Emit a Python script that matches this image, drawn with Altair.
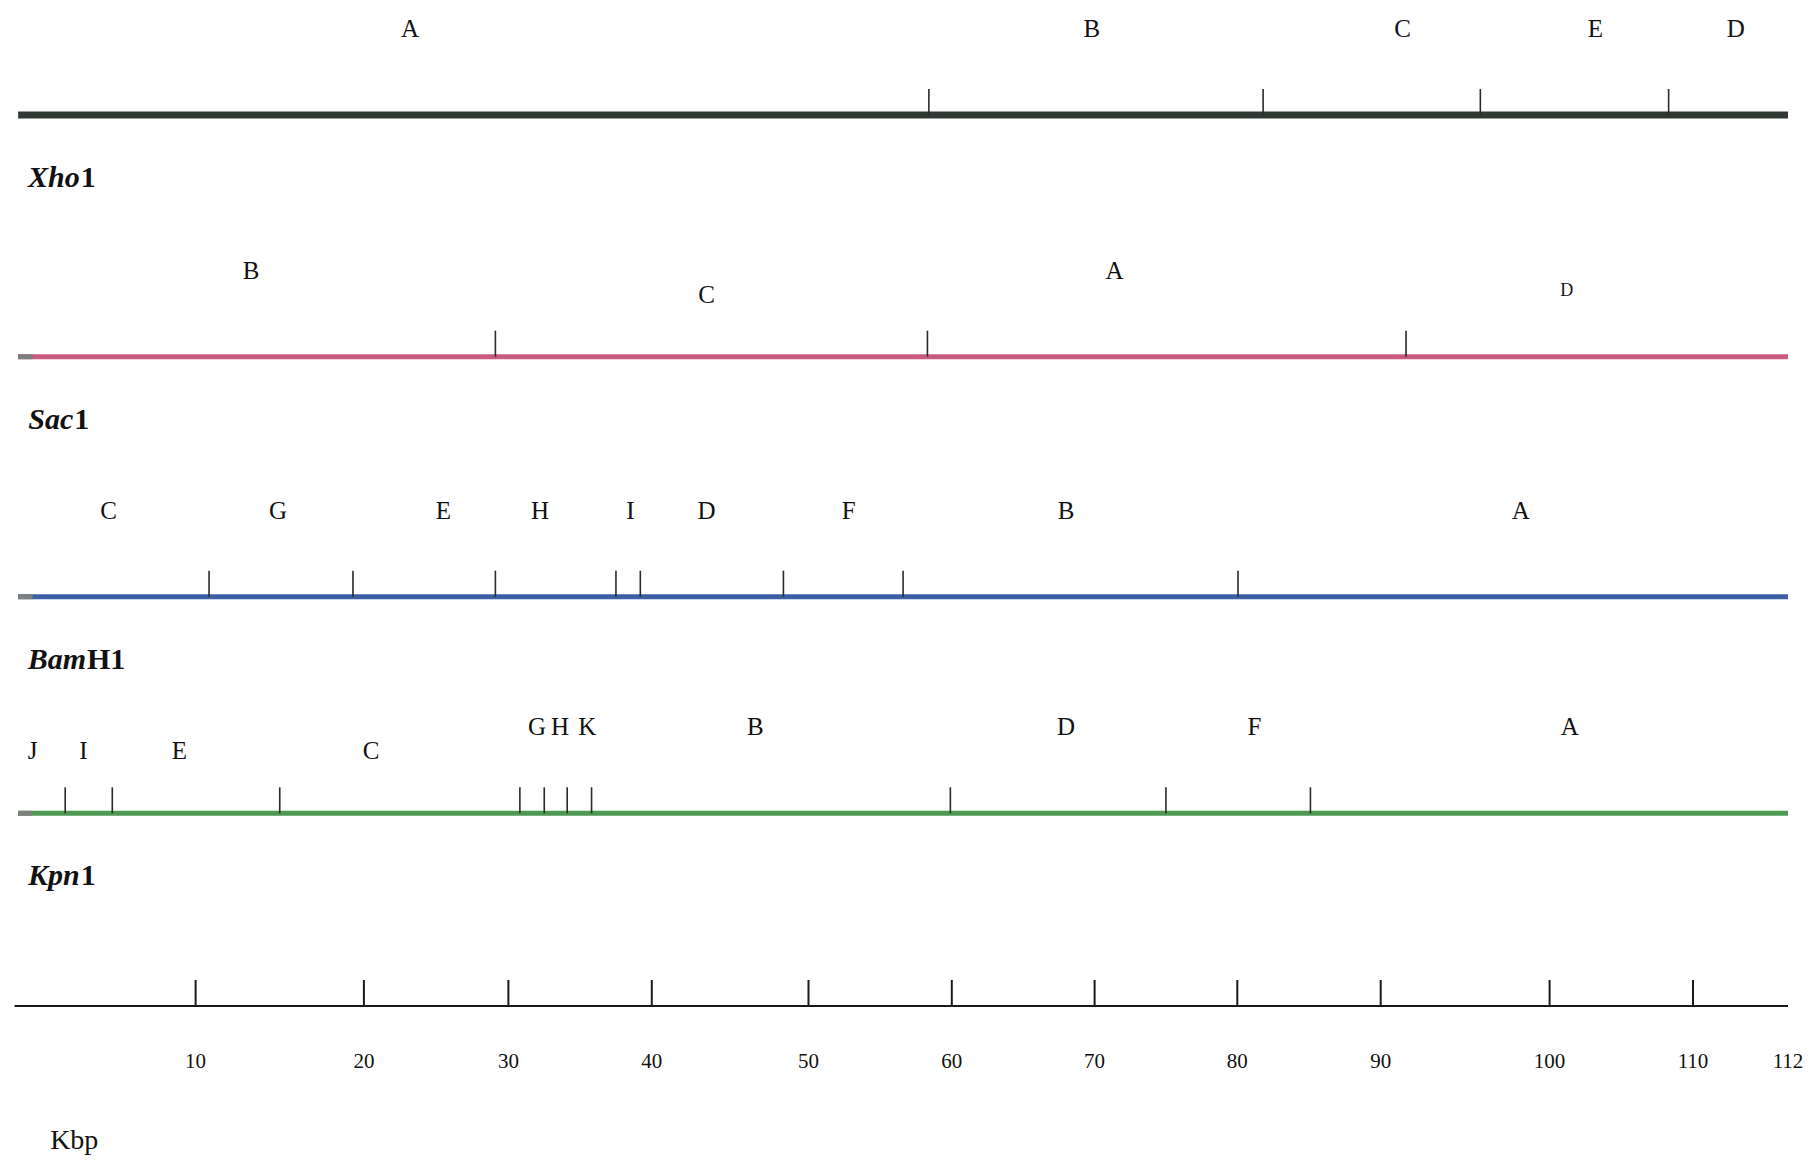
import altair as alt
import pandas as pd

# ---------------- data (kbp) ----------------
genome_end = 112
ruler_ticks = [10, 20, 30, 40, 50, 60, 70, 80, 90, 100, 110]
ruler_labels = [10, 20, 30, 40, 50, 60, 70, 80, 90, 100, 110, 112]

enzyme_italic = ["Xho", "Sac", "Bam", "Kpn"]
enzyme_roman = ["1", "1", "H1", "1"]
enzyme_split = [3.6, 3.25, 3.95, 3.6]
track_colors = ["#2f3833", "#c85a82", "#3a5fa6", "#4c9a50"]

xho_cuts = [58.4, 81.8, 95.9, 108.3]
sac_cuts = [29.1, 58.3, 91.5]
bam_cuts = [10.8, 19.35, 29.1, 37.5, 39.2, 48.4, 56.6, 80.05]
kpn_cuts = [2.8, 5.4, 15.0, 30.8, 32.5, 34.1, 35.8, 59.9, 75.0, 85.1]

xho_frag = ["A", "B", "C", "E", "D"]
xho_frag_pos = [23.2, 69.8, 91.3, 103.2, 110.9]
xho_frag_tier = ["high"] * 5

sac_frag = ["B", "C", "A", "D"]
sac_frag_pos = [13.3, 43.5, 71.4, 101.2]
sac_frag_tier = ["high", "low", "high", "small"]

bam_frag = ["C", "G", "E", "H", "I", "D", "F", "B", "A"]
bam_frag_pos = [5.2, 14.9, 25.5, 32.2, 38.5, 43.5, 52.8, 68.0, 98.3]
bam_frag_tier = ["high"] * 9

kpn_frag = ["J", "I", "E", "C", "G", "H", "K", "B", "D", "F", "A"]
kpn_frag_pos = [1.0, 3.8, 9.1, 20.5, 32.0, 33.6, 35.5, 46.6, 68.0, 81.2, 101.4]
kpn_frag_tier = ["low", "low", "low", "low", "high", "high", "high", "high", "high", "high", "high"]

track_start = 0.2
leader_end = 1.0
kbp_label_pos = 3.3

# ---------------- tables ----------------
cuts = [xho_cuts, sac_cuts, bam_cuts, kpn_cuts]
frags = [(xho_frag, xho_frag_pos, xho_frag_tier), (sac_frag, sac_frag_pos, sac_frag_tier),
         (bam_frag, bam_frag_pos, bam_frag_tier), (kpn_frag, kpn_frag_pos, kpn_frag_tier)]

tracks_df = pd.DataFrame({"row": [0, 1, 2, 3], "start": [track_start] * 4,
                          "end": [genome_end] * 4, "color": track_colors})
leader_df = pd.DataFrame({"row": [1, 2, 3], "start": [track_start] * 3, "end": [leader_end] * 3})
cuts_df = pd.DataFrame([{"row": i, "pos": p} for i, c in enumerate(cuts) for p in c])
frag_df = pd.DataFrame([{"row": i, "label": l, "pos": p, "tier": t}
                        for i, (ls, ps, ts) in enumerate(frags) for l, p, t in zip(ls, ps, ts)])
name_df = pd.DataFrame({"row": [0, 1, 2, 3], "italic": enzyme_italic,
                        "roman": enzyme_roman, "pos": enzyme_split})
ruler_line_df = pd.DataFrame({"row": [4], "start": [0], "end": [genome_end]})
ruler_tick_df = pd.DataFrame({"row": [4] * len(ruler_ticks), "pos": ruler_ticks})
ruler_lab_df = pd.DataFrame({"row": [4] * len(ruler_labels), "pos": ruler_labels,
                             "label": [str(v) for v in ruler_labels]})
kbp_df = pd.DataFrame({"row": [4], "pos": [kbp_label_pos], "label": ["Kbp"]})

# ---------------- scales (the hand-drawn ruler is not evenly spaced) ----------------
xs = alt.Scale(domain=[0, 10, 20, 30, 40, 50, 60, 70, 80, 90, 100, 110, 112],
               range=[6.5, 187.6, 355.9, 500.4, 643.8, 800.5, 943.8, 1086.6, 1229.3,
                      1372.7, 1541.6, 1685, 1780], nice=False, zero=False)
ys = alt.Scale(domain=[0, 1, 2, 3, 4], range=[107, 348.7, 588.7, 805.3, 998],
               nice=False, zero=False)

def X(f):
    return alt.X(f, type="quantitative", scale=xs, axis=None)

def Y(f="row"):
    return alt.Y(f, type="quantitative", scale=ys, axis=None)

SERIF = "Liberation Serif"

top_line = alt.Chart(tracks_df).transform_filter("datum.row == 0").mark_rule(
    strokeWidth=7, strokeCap="butt").encode(
    x=X("start"), x2="end", y=Y(), color=alt.Color("color:N", scale=None))
other_lines = alt.Chart(tracks_df).transform_filter("datum.row > 0").mark_rule(
    strokeWidth=5, strokeCap="butt").encode(
    x=X("start"), x2="end", y=Y(), color=alt.Color("color:N", scale=None))
leaders = alt.Chart(leader_df).mark_rule(strokeWidth=5, strokeCap="butt", color="#7f7f7f").encode(
    x=X("start"), x2="end", y=Y())

cut_ticks = alt.Chart(cuts_df).mark_rule(strokeWidth=1.6, color="#2a2a2a", y2Offset=-26).encode(
    x=X("pos"), y=Y(), y2="row:Q")

def frag_layer(tier, dy, size):
    return alt.Chart(frag_df).transform_filter(f"datum.tier == '{tier}'").mark_text(
        font=SERIF, fontSize=size, color="#111111", baseline="middle", align="center", dy=dy
    ).encode(x=X("pos"), y=Y(), text="label:N")

frag_high = frag_layer("high", -86, 25)
frag_low = frag_layer("low", -62, 25)
frag_small = frag_layer("small", -66, 18)

name_it = alt.Chart(name_df).mark_text(
    font=SERIF, fontSize=30, fontWeight="bold", fontStyle="italic", color="#111111",
    align="right", baseline="middle", dy=63).encode(x=X("pos"), y=Y(), text="italic:N")
name_ro = alt.Chart(name_df).mark_text(
    font=SERIF, fontSize=30, fontWeight="bold", color="#111111",
    align="left", baseline="middle", dy=63, dx=1).encode(x=X("pos"), y=Y(), text="roman:N")

ruler_line = alt.Chart(ruler_line_df).mark_rule(strokeWidth=2, color="#1a1a1a").encode(
    x=X("start"), x2="end", y=Y())
ruler_tick = alt.Chart(ruler_tick_df).mark_rule(strokeWidth=2, color="#1a1a1a", y2Offset=-26).encode(
    x=X("pos"), y=Y(), y2="row:Q")
ruler_lab = alt.Chart(ruler_lab_df).mark_text(
    font=SERIF, fontSize=21, color="#111111", baseline="middle", dy=56).encode(
    x=X("pos"), y=Y(), text="label:N")
kbp = alt.Chart(kbp_df).mark_text(
    font=SERIF, fontSize=28, color="#111111", baseline="middle", dy=135).encode(
    x=X("pos"), y=Y(), text="label:N")

chart = alt.layer(
    top_line, other_lines, leaders, cut_ticks, frag_high, frag_low, frag_small,
    name_it, name_ro, ruler_line, ruler_tick, ruler_lab, kbp
).properties(width=1804, height=1152, padding=0).configure_view(stroke=None)

chart.save("out.html", embed_options={"renderer": "svg", "actions": False})
